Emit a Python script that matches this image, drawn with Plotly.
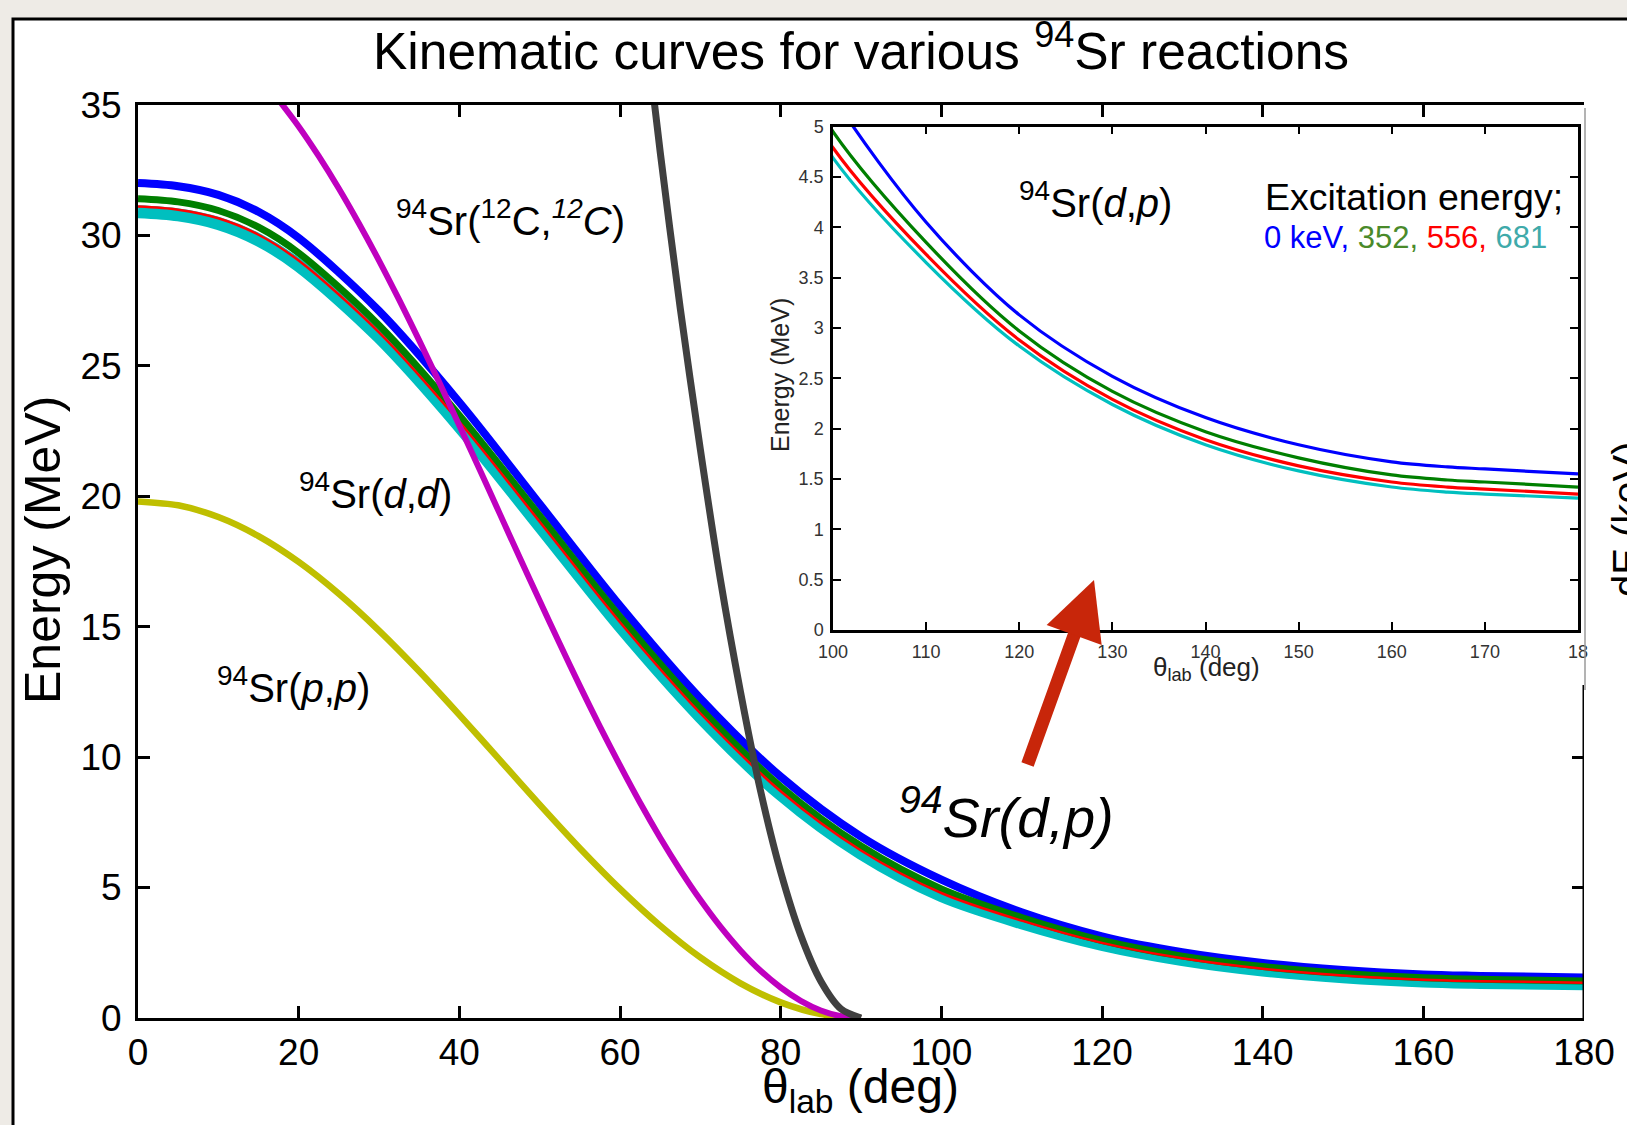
import plotly.graph_objects as go

W, H = 1627, 1125

def px(x):
    return x / W

def py(y):
    return 1 - y / H

# ---------------- data ----------------
# 94Sr(d,p) protons for the four final states (0, 352, 556, 681 keV)
theta_dp = [0, 5, 10, 15, 20, 30, 40, 50, 60, 70, 80, 90, 100, 110, 120, 130, 140, 150, 160, 166, 170, 180]
e_dp_0keV = [32.0, 31.88, 31.55, 30.9, 29.9, 27.1, 23.6, 19.7, 15.8, 12.25, 9.25, 6.95, 5.3, 4.05, 3.13, 2.52, 2.11, 1.84, 1.67, 1.62, 1.60, 1.55]
e_dp_352 = [31.4, 31.28, 30.95, 30.31, 29.32, 26.55, 23.1, 19.25, 15.38, 11.87, 8.87, 6.59, 4.95, 3.85, 2.97, 2.37, 1.97, 1.71, 1.54, 1.49, 1.47, 1.42]
e_dp_556 = [31.1, 30.98, 30.65, 30.02, 29.03, 26.28, 22.85, 19.02, 15.17, 11.68, 8.69, 6.42, 4.79, 3.73, 2.88, 2.29, 1.89, 1.63, 1.47, 1.42, 1.40, 1.35]
e_dp_681 = [30.9, 30.78, 30.45, 29.82, 28.84, 26.1, 22.68, 18.86, 15.02, 11.55, 8.57, 6.31, 4.69, 3.65, 2.82, 2.24, 1.84, 1.58, 1.42, 1.37, 1.35, 1.31]

# 94Sr(p,p)
theta_pp = [0, 5, 10, 15, 20, 25, 30, 35, 40, 45, 50, 55, 60, 65, 70, 75, 80, 85, 90]
e_pp = [19.8, 19.65, 19.2, 18.47, 17.48, 16.26, 14.85, 13.29, 11.62, 9.9, 8.18, 6.51, 4.95, 3.54, 2.32, 1.33, 0.6, 0.15, 0.0]

# 94Sr(d,d)
theta_dd = [17, 20, 22.5, 25, 27.5, 30, 32.5, 35, 37.5, 40, 42.5, 45, 47.5, 50, 52.5, 55, 57.5, 60,
            62.5, 65, 67.5, 70, 72.5, 75, 77.5, 80, 82.5, 85, 87.5, 90]
e_dd = [35.39, 34.17, 33.03, 31.79, 30.45, 29.03, 27.53, 25.97, 24.36, 22.71, 21.04, 19.35, 17.66, 15.99,
        14.34, 12.73, 11.17, 9.68, 8.25, 6.91, 5.67, 4.53, 3.5, 2.59, 1.81, 1.17, 0.66, 0.29, 0.07, 0.0]

# 94Sr(12C,12C)
theta_cc = [62.5, 65, 67.5, 70, 72.5, 75, 77.5, 80, 82.5, 85, 87.5, 90]
e_cc = [39.7, 33.2, 27.2, 21.8, 16.8, 12.5, 8.7, 5.6, 3.17, 1.41, 0.35, 0.0]

x_ticks_main = [0, 20, 40, 60, 80, 100, 120, 140, 160, 180]
y_ticks_main = [0, 5, 10, 15, 20, 25, 30, 35]
x_ticks_inset = [100, 110, 120, 130, 140, 150, 160, 170, 180]
x_ticktext_inset = ["100", "110", "120", "130", "140", "150", "160", "170", "18"]
y_ticks_inset = [0, 0.5, 1, 1.5, 2, 2.5, 3, 3.5, 4, 4.5, 5]
y_ticktext_inset = ["0", "0.5", "1", "1.5", "2", "2.5", "3", "3.5", "4", "4.5", "5"]

C_BLUE = "#0000ff"
C_GREEN = "#007f00"
C_RED = "#ff0000"
C_CYAN = "#00bfbf"
C_YEL = "#bfbf00"
C_MAG = "#bf00bf"
C_GRAY = "#404040"

FONT = "Liberation Sans, Arial, Helvetica, sans-serif"

fig = go.Figure()

# ---------------- main panel ----------------
bundle = [
    (e_dp_681, C_CYAN, 13),
    (e_dp_0keV, C_BLUE, 8),
    (e_dp_352, C_GREEN, 7),
    (e_dp_556, C_RED, 2.5),
]
for vals, col, w in bundle:
    fig.add_trace(go.Scatter(x=theta_dp, y=vals, mode="lines",
                             line=dict(color=col, width=w, shape="spline", smoothing=0.9),
                             xaxis="x", yaxis="y", showlegend=False, hoverinfo="skip"))

for xs, ys, col, w in [(theta_pp, e_pp, C_YEL, 6.5), (theta_dd, e_dd, C_MAG, 6), (theta_cc, e_cc, C_GRAY, 7)]:
    fig.add_trace(go.Scatter(x=xs, y=ys, mode="lines",
                             line=dict(color=col, width=w, shape="spline", smoothing=0.8),
                             xaxis="x", yaxis="y", showlegend=False, hoverinfo="skip"))

# dummy trace for right-side tick axis
fig.add_trace(go.Scatter(x=[None], y=[None], xaxis="x", yaxis="y3", showlegend=False, hoverinfo="skip"))

# ---------------- inset ----------------
for vals, col in [(e_dp_681, C_CYAN), (e_dp_556, C_RED), (e_dp_352, C_GREEN), (e_dp_0keV, C_BLUE)]:
    fig.add_trace(go.Scatter(x=theta_dp, y=vals, mode="lines",
                             line=dict(color=col, width=3.2, shape="spline", smoothing=0.9),
                             xaxis="x2", yaxis="y2", showlegend=False, hoverinfo="skip"))

axis_common = dict(showgrid=False, zeroline=False, showline=True, linecolor="black",
                   ticks="inside", tickcolor="black", fixedrange=True, automargin=False)

fig.update_layout(
    width=W, height=H, autosize=False,
    margin=dict(l=0, r=0, t=0, b=0, pad=0, autoexpand=False),
    paper_bgcolor="#eeebe6", plot_bgcolor="white",
    showlegend=False,
    font=dict(family=FONT, color="black"),
    xaxis=dict(domain=[px(138), px(1584)], range=[0, 180], anchor="y",
               tickmode="array", tickvals=x_ticks_main,
               ticklen=12, tickwidth=2.5, linewidth=3, mirror="ticks",
               tickfont=dict(size=37), ticklabelstandoff=0, **axis_common),
    yaxis=dict(domain=[py(1018), py(104.8)], range=[0, 35], anchor="x",
               tickmode="array", tickvals=y_ticks_main,
               ticklen=12, tickwidth=2.5, linewidth=3, mirror=False,
               tickfont=dict(size=37), ticklabelstandoff=6, **axis_common),
    yaxis3=dict(overlaying="y", side="right", anchor="x", range=[0, 35],
                tickmode="array", tickvals=[5, 10], ticks="inside", ticklen=12,
                tickwidth=2.5, tickcolor="black", showticklabels=False, automargin=False,
                showline=False, showgrid=False, zeroline=False, fixedrange=True),
    xaxis2=dict(domain=[px(833), px(1578)], range=[100, 180], anchor="y2",
                tickmode="array", tickvals=x_ticks_inset, ticktext=x_ticktext_inset,
                ticklen=8, tickwidth=2, linewidth=2.5, mirror="ticks",
                tickfont=dict(size=18, color="#333333"), ticklabelstandoff=4, **axis_common),
    yaxis2=dict(domain=[py(630), py(126.6)], range=[0, 5], anchor="x2",
                tickmode="array", tickvals=y_ticks_inset, ticktext=y_ticktext_inset,
                ticklen=8, tickwidth=2, linewidth=2.5, mirror="ticks",
                tickfont=dict(size=18, color="#333333"), ticklabelstandoff=3, **axis_common),
)

shapes = [
    dict(type="rect", xref="paper", yref="paper", x0=px(13), x1=1.02, y0=-0.02, y1=py(19),
         line=dict(color="black", width=3), fillcolor="white", layer="below"),
    dict(type="line", xref="x", yref="y", x0=180, x1=180, y0=0, y1=12.76,
         line=dict(color="black", width=3)),
    dict(type="line", xref="paper", yref="paper", x0=px(1585), x1=px(1585), y0=py(108), y1=py(690),
         line=dict(color="#9a9a9a", width=1.5)),
]
fig.update_layout(shapes=shapes)

def ann(text, x, y, size, angle=0, color="black"):
    return dict(text=text, x=px(x), y=py(y), xref="paper", yref="paper",
                xanchor="center", yanchor="middle", showarrow=False,
                textangle=angle, font=dict(size=size, color=color, family=FONT))

annotations = [
    ann("Kinematic curves for various <sup>94</sup>Sr reactions", 861, 47, 51.5),
    ann("Energy (MeV)", 43, 550, 50, angle=-90),
    ann("θ<sub>lab</sub> (deg)", 861, 1090, 48),
    ann("<sup>94</sup>Sr(<sup>12</sup>C,<i><sup>12</sup>C</i>)", 511, 218, 40),
    ann("<sup>94</sup>Sr(<i>d</i>,<i>d</i>)", 375, 491, 40),
    ann("<sup>94</sup>Sr(<i>p</i>,<i>p</i>)", 293, 685, 40),
    ann("<i><sup>94</sup>Sr(d,p)</i>", 1006, 813, 56),
    ann("<sup>94</sup>Sr(<i>d</i>,<i>p</i>)", 1095, 200, 40),
    ann("Excitation energy;", 1414, 197, 37.5),
    ann("<span style='color:#0000ff'>0 keV,</span> <span style='color:#4a8a2a'>352,</span> "
        "<span style='color:#ff0000'>556,</span> <span style='color:#3faaaa'>681</span>", 1405, 238, 31),
    ann("Energy (MeV)", 780, 375, 25, angle=-90, color="#222222"),
    ann("θ<sub>lab</sub> (deg)", 1206, 668, 26, color="#222222"),
    ann("dE (keV)", 1627, 519, 40, angle=-90),
    dict(text="", x=px(1094), y=py(580), xref="paper", yref="paper",
         showarrow=True, ax=-67, ay=186, arrowcolor="#c8260a", arrowwidth=13,
         arrowhead=2, arrowsize=0.9, standoff=0, startstandoff=0),
]
fig.update_layout(annotations=annotations)

fig.write_html("out.html")
